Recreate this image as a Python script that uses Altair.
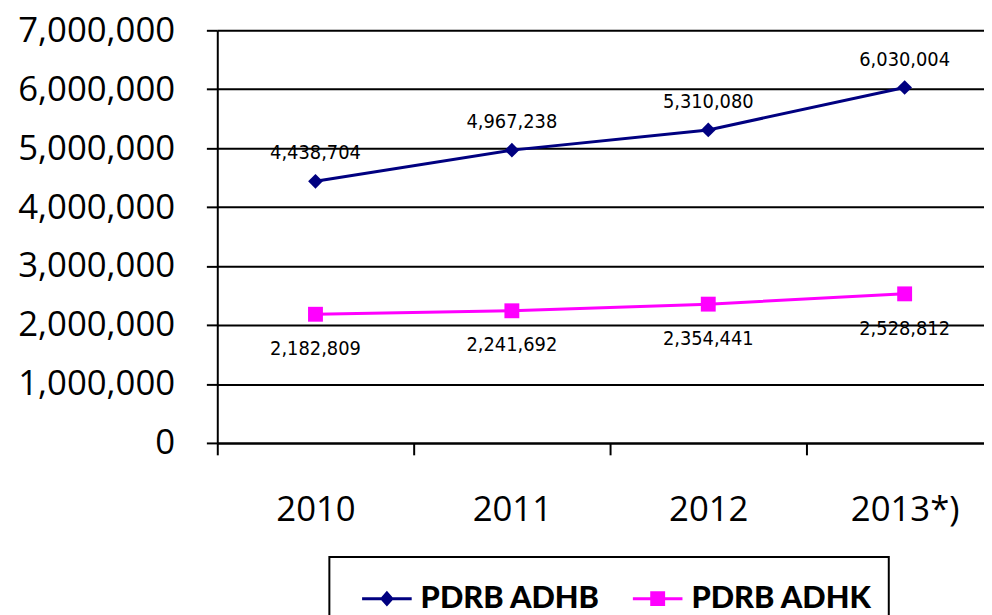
import altair as alt
import pandas as pd

years = ["2010", "2011", "2012", "2013*)"]
adhb = [4438704, 4967238, 5310080, 6030004]
adhk = [2182809, 2241692, 2354441, 2528812]
series_names = ["PDRB ADHB", "PDRB ADHK"]
series_colors = ["#000080", "#FF00FF"]
y_ticks = [0, 1000000, 2000000, 3000000, 4000000, 5000000, 6000000, 7000000]

rows = []
for yr, a, k in zip(years, adhb, adhk):
    rows.append({"year": yr, "series": series_names[0], "value": a})
    rows.append({"year": yr, "series": series_names[1], "value": k})
df = pd.DataFrame(rows)

x_enc = alt.X(
    "year:O",
    sort=years,
    scale=alt.Scale(type="band", paddingInner=0, paddingOuter=0, range=[0, 792]),
    axis=alt.Axis(
        title=None, labelAngle=0, grid=False, tickBand="extent",
        domainColor="black", domainWidth=2, tickColor="black", tickWidth=2,
        tickSize=12, labelFont="Open Sans", labelFontSize=35, labelColor="black",
        labelPadding=38,
    ),
)
y_enc = alt.Y(
    "value:Q",
    scale=alt.Scale(domain=[0, 7000000], nice=False),
    axis=alt.Axis(
        title=None, values=y_ticks, format=",d", grid=True, gridColor="black",
        gridWidth=2, domainColor="black", domainWidth=2, tickColor="black",
        tickWidth=2, tickSize=11, labelFont="Open Sans", labelFontSize=35,
        labelColor="black", labelPadding=32,
    ),
)

color_scale = alt.Scale(domain=series_names, range=series_colors)

lines = alt.Chart(df).mark_line(strokeWidth=3).encode(
    x=x_enc, y=y_enc,
    color=alt.Color("series:N", scale=color_scale, legend=None),
)
points = alt.Chart(df).mark_point(filled=True, opacity=1).encode(
    x=x_enc, y=y_enc,
    color=alt.Color("series:N", scale=color_scale, legend=None),
    shape=alt.Shape("series:N", scale=alt.Scale(domain=series_names, range=["diamond", "square"]), legend=None),
    size=alt.Size("series:N", scale=alt.Scale(domain=series_names, range=[220, 225]), legend=None),
)

label_font = "'DejaVu Sans Condensed', Roboto, sans-serif"
text_top = alt.Chart(df).transform_filter(alt.datum.series == series_names[0]).mark_text(
    dy=-28, font=label_font, fontSize=20, color="black", baseline="middle"
).encode(x=x_enc, y=y_enc, text=alt.Text("value:Q", format=",d"))
text_bottom = alt.Chart(df).transform_filter(alt.datum.series == series_names[1]).mark_text(
    dy=35, font=label_font, fontSize=20, color="black", baseline="middle"
).encode(x=x_enc, y=y_enc, text=alt.Text("value:Q", format=",d"))

path_a = "M-0.36,-0.06L1.64,-0.06L1.64,0.06L-0.36,0.06Z M0.36,0L0.64,-0.32L0.92,0L0.64,0.32Z"
path_b = "M-0.36,-0.06L1.64,-0.06L1.64,0.06L-0.36,0.06Z M0.34,-0.3L0.94,-0.3L0.94,0.3L0.34,0.3Z"

leg = alt.Legend(
    orient="none", legendX=113, legendY=531, direction="horizontal", title=None,
    strokeColor="black", padding=17, symbolSize=2500, symbolStrokeWidth=0,
    symbolOpacity=1, labelFont="Lato", labelFontWeight=900, labelFontSize=31,
    labelColor="black", labelOffset=25, labelLimit=0, columnPadding=17,
)
legend_layer = alt.Chart(df).mark_point(filled=True, opacity=0).encode(
    x=x_enc, y=y_enc,
    color=alt.Color("series:N", scale=color_scale, legend=leg),
    shape=alt.Shape("series:N", scale=alt.Scale(domain=series_names, range=[path_a, path_b]), legend=leg),
)

chart = alt.layer(lines, points, text_top, text_bottom, legend_layer).resolve_scale(
    color="independent", shape="independent", size="independent"
).resolve_legend(
    color="independent", shape="independent", size="independent"
).properties(
    width=773, height=416,
    autosize=alt.AutoSizeParams(type="none"),
    padding={"left": 211, "top": 20, "right": 0, "bottom": 171},
).configure_view(stroke=None).configure_legend(strokeWidth=2)

chart.save("out.html", embed_options={"renderer": "svg", "actions": False})
